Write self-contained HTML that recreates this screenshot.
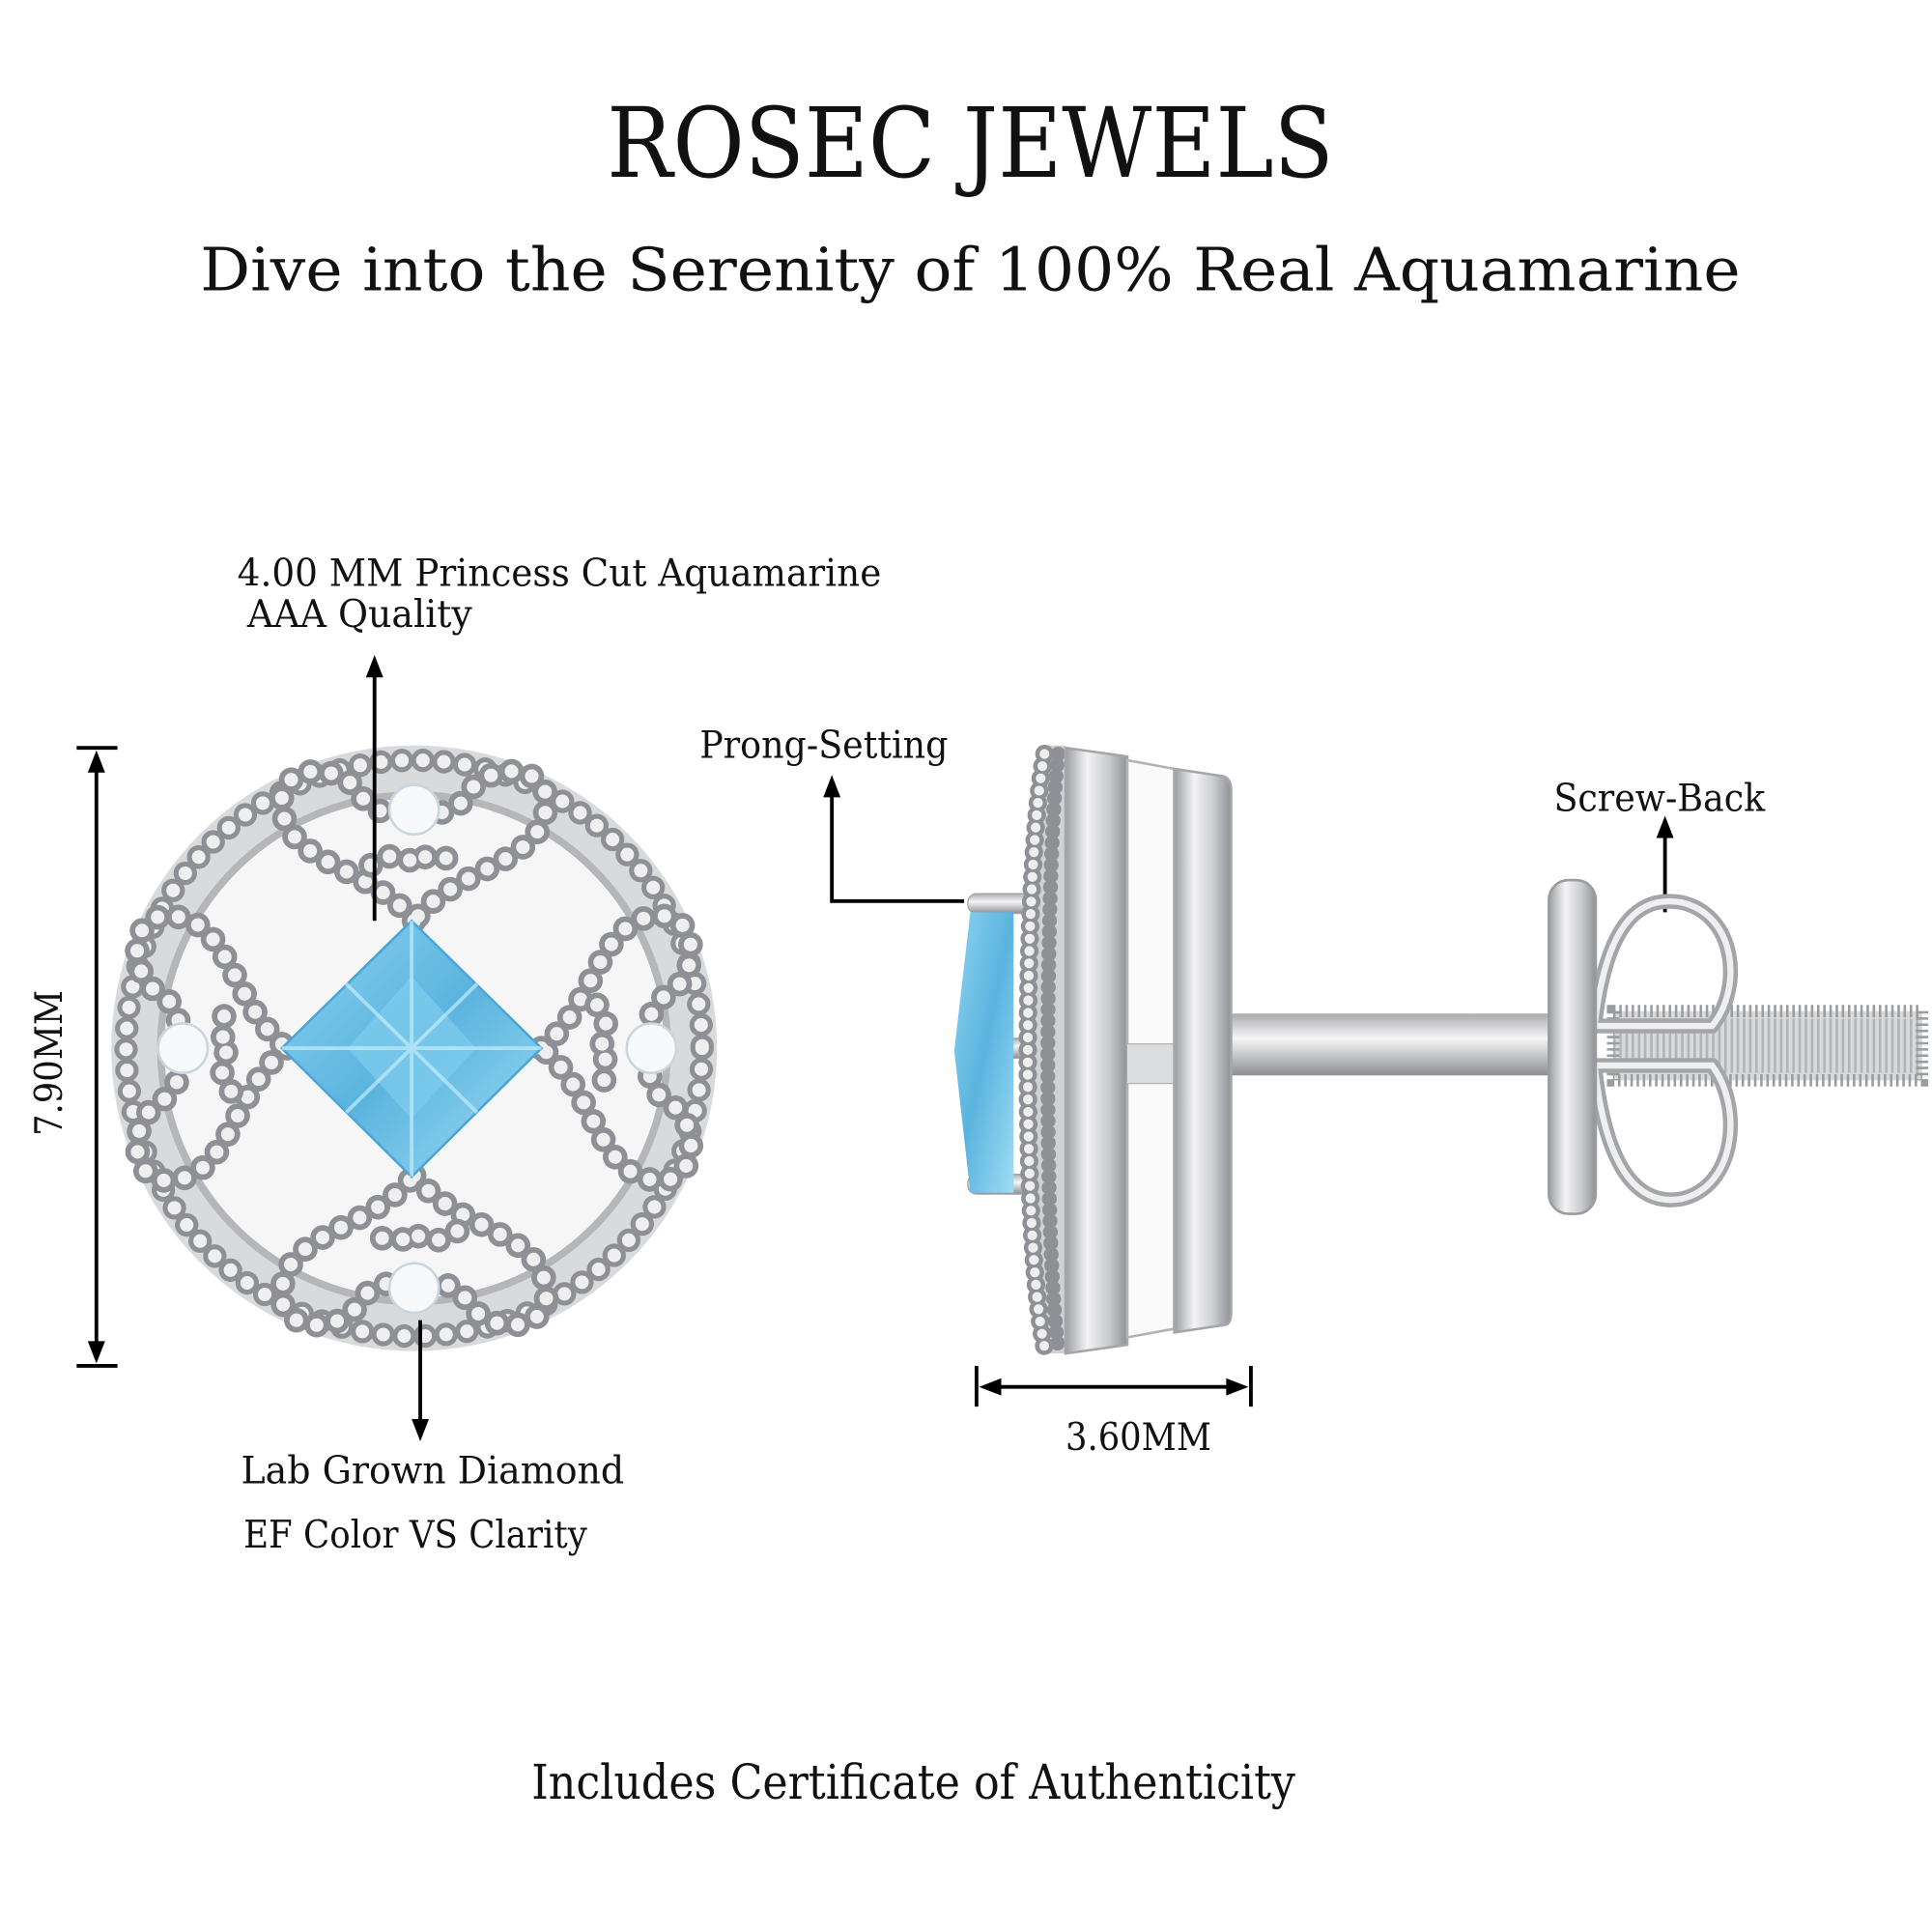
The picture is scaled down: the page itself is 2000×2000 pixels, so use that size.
<!DOCTYPE html>
<html><head><meta charset="utf-8"><style>
html,body{margin:0;padding:0;background:#fff}
svg{display:block}
text{font-family:"DejaVu Serif","Liberation Serif",serif;fill:#111}
</style></head><body>
<svg width="2000" height="2000" viewBox="0 0 1563 1563" xmlns="http://www.w3.org/2000/svg">
<defs>
<linearGradient id="metal" x1="0" x2="1"><stop offset="0" stop-color="#9a9ca0"/><stop offset=".35" stop-color="#f4f4f5"/><stop offset=".7" stop-color="#c9cacd"/><stop offset="1" stop-color="#8f9195"/></linearGradient>
<linearGradient id="post" x1="0" y1="0" x2="0" y2="1"><stop offset="0" stop-color="#a9abaf"/><stop offset=".4" stop-color="#f6f6f7"/><stop offset="1" stop-color="#8c8e92"/></linearGradient>
<linearGradient id="blue" x1="0" y1="0" x2="1" y2="1"><stop offset="0" stop-color="#8fd3f0"/><stop offset=".5" stop-color="#5ab4df"/><stop offset="1" stop-color="#9fdcf3"/></linearGradient>
</defs>

<text x="785" y="143" font-size="78" text-anchor="middle" textLength="588" lengthAdjust="spacingAndGlyphs">ROSEC JEWELS</text>
<text x="785" y="235" font-size="48" text-anchor="middle" textLength="1246" lengthAdjust="spacingAndGlyphs">Dive into the Serenity of 100% Real Aquamarine</text>

<!-- front earring -->
<g>
<circle cx="335" cy="848" r="245" fill="#d9dadc"/>
<circle cx="335" cy="848" r="233" fill="none" stroke="#8e9095" stroke-width="19" stroke-dasharray="0 17" stroke-linecap="round"/>
<circle cx="335" cy="848" r="233" fill="none" stroke="#efeff0" stroke-width="11" stroke-dasharray="0 17" stroke-linecap="round"/>
<circle cx="335" cy="848" r="205" fill="#f6f6f7" stroke="#b4b6b9" stroke-width="6"/>
<g fill="none" stroke-linecap="round">
<g id="lobe">
<path d="M335,745 C300,700 230,700 228,650 C226,620 270,615 290,640 C300,660 320,660 335,655 C350,660 370,660 380,640 C400,615 444,620 442,650 C440,700 370,700 335,745" stroke="#8e9095" stroke-width="20" stroke-dasharray="0 17" />
<path d="M335,745 C300,700 230,700 228,650 C226,620 270,615 290,640 C300,660 320,660 335,655 C350,660 370,660 380,640 C400,615 444,620 442,650 C440,700 370,700 335,745" stroke="#efeff0" stroke-width="11" stroke-dasharray="0 17" />
<path d="M300,700 C310,690 330,690 335,700 C340,690 360,690 370,700" stroke="#8e9095" stroke-width="20" stroke-dasharray="0 17"/>
<path d="M300,700 C310,690 330,690 335,700 C340,690 360,690 370,700" stroke="#efeff0" stroke-width="11" stroke-dasharray="0 17"/>
</g>
<use href="#lobe" transform="rotate(90 335 848)"/>
<use href="#lobe" transform="rotate(180 335 848)"/>
<use href="#lobe" transform="rotate(270 335 848)"/>
</g>
<polygon points="333,745 438,848 333,952 228,848" fill="url(#blue)" stroke="#4aa6d6" stroke-width="2"/>
<polygon points="333,790 385,848 333,905 281,848" fill="#7ccbec" opacity=".8"/>
<path d="M333,745 L333,952 M228,848 L438,848 M280,796 L386,900 M386,796 L280,900" stroke="#c4ecfa" stroke-width="3" opacity=".7"/>
<g fill="#f7f9fb" stroke="#c9d6de" stroke-width="2">
<circle cx="335" cy="655" r="20"/><circle cx="148" cy="848" r="20"/><circle cx="527" cy="848" r="20"/><circle cx="335" cy="1042" r="20"/>
</g>
</g>

<!-- connectors -->
<g stroke="#000" stroke-width="3" fill="none">
<line x1="303" y1="745" x2="303" y2="545"/>
<line x1="340" y1="1068" x2="340" y2="1150"/>
<line x1="78" y1="620" x2="78" y2="1090"/>
<line x1="62" y1="605" x2="95" y2="605"/><line x1="62" y1="1105" x2="95" y2="1105"/>
<polyline points="780,729 673,729 673,642"/>
<line x1="1347" y1="738" x2="1347" y2="675"/>
<line x1="805" y1="1122" x2="997" y2="1122"/>
<line x1="790" y1="1105" x2="790" y2="1138"/><line x1="1012" y1="1105" x2="1012" y2="1138"/>
</g>
<g fill="#000">
<polygon points="303,530 296,548 310,548"/>
<polygon points="340,1166 333,1148 347,1148"/>
<polygon points="78,607 71,625 85,625"/>
<polygon points="78,1103 71,1085 85,1085"/>
<polygon points="673,627 666,645 680,645"/>
<polygon points="1347,660 1340,678 1354,678"/>
<polygon points="792,1122 810,1115 810,1129"/>
<polygon points="1010,1122 992,1115 992,1129"/>
</g>

<text x="192" y="474" font-size="31" textLength="521" lengthAdjust="spacingAndGlyphs">4.00 MM  Princess Cut Aquamarine</text>
<text x="200" y="507" font-size="31" textLength="182" lengthAdjust="spacingAndGlyphs">AAA Quality</text>
<text x="566" y="613" font-size="31" textLength="201" lengthAdjust="spacingAndGlyphs">Prong-Setting</text>
<text x="1257" y="656" font-size="31" textLength="171" lengthAdjust="spacingAndGlyphs">Screw-Back</text>
<text x="195" y="1200" font-size="31" textLength="310" lengthAdjust="spacingAndGlyphs">Lab Grown Diamond</text>
<text x="197" y="1252" font-size="31" textLength="278" lengthAdjust="spacingAndGlyphs">EF Color VS Clarity</text>
<text x="921" y="1173" font-size="31" text-anchor="middle" textLength="118" lengthAdjust="spacingAndGlyphs">3.60MM</text>
<text transform="translate(50,860) rotate(-90)" font-size="31" text-anchor="middle" textLength="118" lengthAdjust="spacingAndGlyphs">7.90MM</text>
<text x="739" y="1455" font-size="39" text-anchor="middle" textLength="618" lengthAdjust="spacingAndGlyphs">Includes Certificate of Authenticity</text>

<!-- side view -->
<g>
<rect x="1305" y="818" width="250" height="56" fill="#d8d9db"/>
<rect x="1305" y="818" width="250" height="56" fill="none" stroke="#9a9ca0" stroke-width="10" stroke-dasharray="2 3"/>
<line x1="1305" y1="846" x2="1555" y2="846" stroke="#9a9ca0" stroke-width="44" stroke-dasharray="2 3" opacity=".6"/>
<g fill="none" stroke="#a3a5a9" stroke-width="12">
<path d="M1290,830 C1300,740 1330,725 1360,730 C1405,740 1410,800 1385,830 Z"/>
<path d="M1290,862 C1300,955 1330,975 1360,970 C1405,960 1410,895 1385,862 Z"/>
</g>
<g fill="none" stroke="#efeff0" stroke-width="5">
<path d="M1290,830 C1300,740 1330,725 1360,730 C1405,740 1410,800 1385,830 Z"/>
<path d="M1290,862 C1300,955 1330,975 1360,970 C1405,960 1410,895 1385,862 Z"/>
</g>
<rect x="993" y="820" width="265" height="50" fill="url(#post)"/>
<rect x="1253" y="712" width="38" height="270" rx="16" fill="url(#metal)" stroke="#9a9ca0" stroke-width="2"/>
<rect x="783" y="723" width="50" height="16" rx="7" fill="url(#post)" stroke="#a0a2a6"/>
<rect x="783" y="840" width="50" height="16" rx="7" fill="url(#post)" stroke="#a0a2a6"/>
<rect x="783" y="950" width="50" height="16" rx="7" fill="url(#post)" stroke="#a0a2a6"/>
<path d="M785,738 L820,738 L820,965 L785,965 L772,850 Z" fill="url(#blue)"/>
<path d="M848,603 C825,700 820,1000 848,1095 L862,1095 L862,603 Z" fill="#d0d1d3"/>
<path d="M845,610 C828,700 826,1000 845,1090" fill="none" stroke="#8e9095" stroke-width="15" stroke-dasharray="0 10" stroke-linecap="round"/>
<path d="M845,610 C828,700 826,1000 845,1090" fill="none" stroke="#eeeeef" stroke-width="8" stroke-dasharray="0 10" stroke-linecap="round"/>
<path d="M856,610 C846,700 844,1000 856,1090" fill="none" stroke="#8e9095" stroke-width="12" stroke-dasharray="0 9" stroke-linecap="round"/>
<path d="M862,605 L912,612 L912,1088 L862,1095 Z" fill="url(#metal)" stroke="#a4a6aa" stroke-width="2"/>
<path d="M912,615 L950,622 L950,845 L912,845 Z" fill="#fafafa" stroke="#b0b2b5" stroke-width="2"/>
<path d="M912,876 L950,876 L950,1075 L912,1082 Z" fill="#fafafa" stroke="#b0b2b5" stroke-width="2"/>
<rect x="912" y="845" width="38" height="31" fill="#dcdddf"/>
<path d="M950,622 L990,628 Q996,630 996,640 L996,1062 Q996,1072 990,1072 L950,1078 Z" fill="url(#metal)" stroke="#a4a6aa" stroke-width="2"/>
</g>
</svg>
</body></html>
